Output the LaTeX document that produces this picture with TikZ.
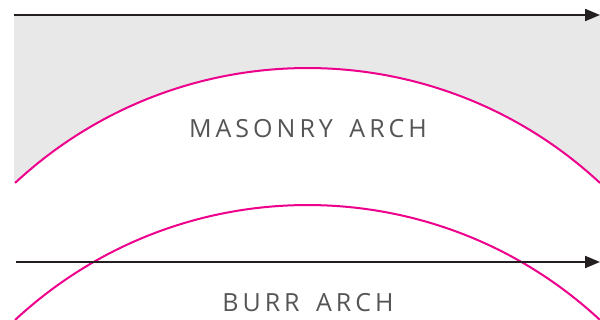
\documentclass[tikz,border=0pt]{standalone}
\usepackage{fontspec}
\setmainfont{Open Sans}
\usetikzlibrary{arrows.meta}
\definecolor{archmag}{HTML}{EC008C}
\definecolor{linek}{HTML}{231F20}
\definecolor{fillg}{HTML}{E8E8E8}
\definecolor{txtg}{HTML}{555555}
\tikzset{
  axis/.style={draw=linek, line width=2.1pt, -{Triangle[length=15pt,width=12pt]}},
  arch/.style={draw=archmag, line width=2pt},
  lbl/.style={text=txtg, font=\fontsize{25}{25}\selectfont\addfontfeature{LetterSpace=16}, anchor=base, inner sep=0pt}
}
\begin{document}
\begin{tikzpicture}[x=1pt,y=1pt]
\useasboundingbox (0,0) rectangle (600,320);
\clip (0,0) rectangle (600,320);
% coordinates
\coordinate (tl) at (14,305);
\coordinate (tr) at (600,305);
\coordinate (bl) at (16,58);
\coordinate (br) at (600,58);
% masonry fill
\fill[fillg] (tl) -- (600,305) -- (600,137) arc[start angle=47.08, end angle=132.92, radius=429.5] -- (14,137) -- cycle;
% arches
\draw[arch] (600,137) arc[start angle=47.08, end angle=132.92, radius=429.5];
\draw[arch] (600,0) arc[start angle=47.08, end angle=132.92, radius=429.5];
% axes
\draw[axis] (tl) -- (tr);
\draw[axis] (bl) -- (br);
% labels
\node[lbl] (mas) at (308,182.7) {MASONRY\ \hspace{6pt}ARCH};
\node[lbl] (burr) at (308,8) {BURR\ \hspace{6pt}ARCH};
\end{tikzpicture}
\end{document}
